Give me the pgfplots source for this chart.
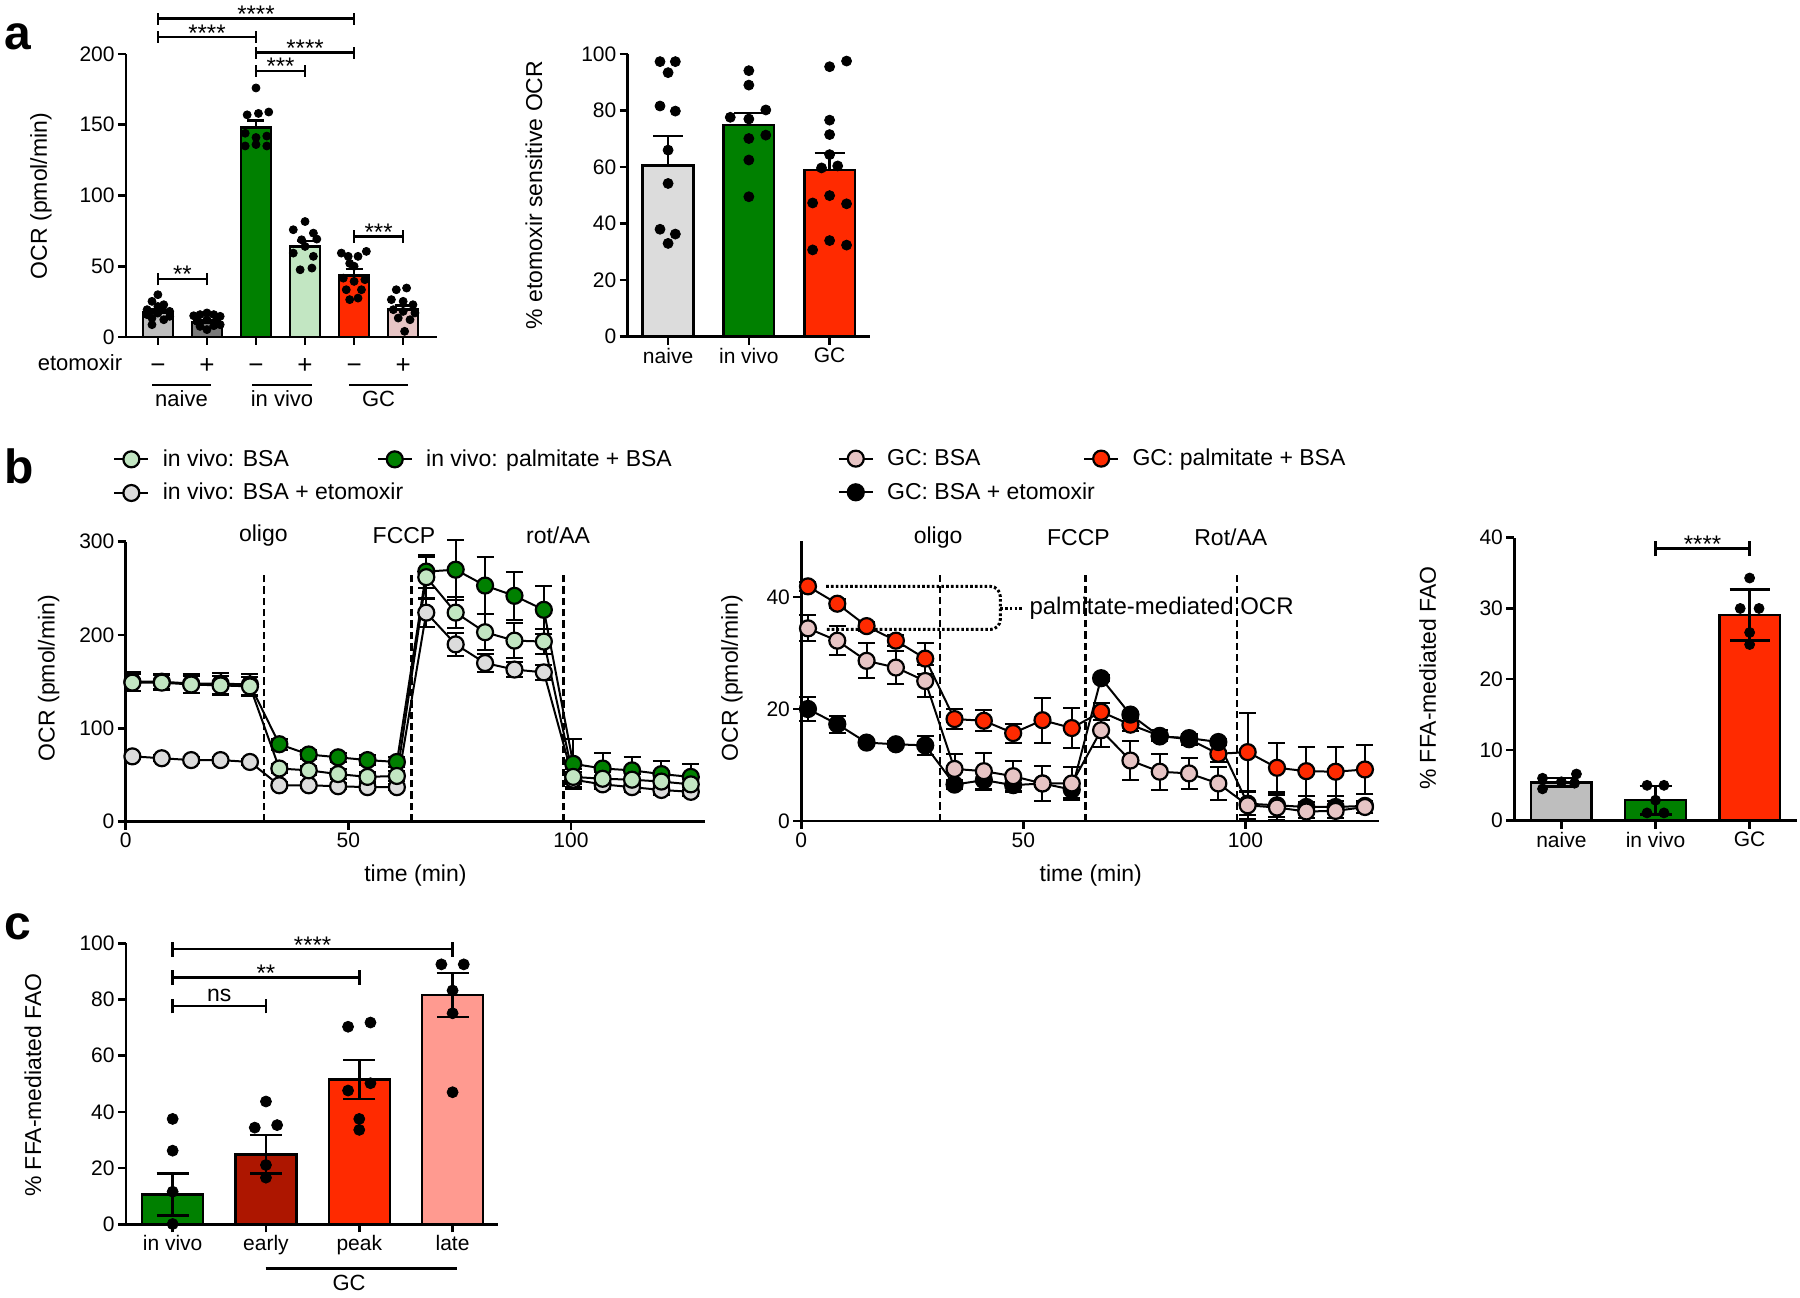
\documentclass[border=0pt]{standalone}
\usepackage{fontspec}
\setmainfont{Liberation Sans}
\usepackage{pgfplots}
\pgfplotsset{compat=1.18}
\definecolor{gpgreen}{HTML}{008000}
\definecolor{gplgreen}{HTML}{C2E6C2}
\definecolor{gplgray}{HTML}{DCDCDC}
\definecolor{gpgray}{HTML}{BEBEBE}
\definecolor{gpdgray}{HTML}{7A7A7A}
\definecolor{gpred}{HTML}{FF2A00}
\definecolor{gppink}{HTML}{E6C4C4}
\definecolor{gpdred}{HTML}{AD1600}
\definecolor{gplred}{HTML}{FF9A90}
\newcommand{\lbl}{\fontsize{11.5}{13}\selectfont}
\newcommand{\tkl}{\fontsize{10.5}{12}\selectfont}
\newcommand{\sigbar}[5]{%
  \draw[line width=1.25pt] (axis cs:#1,{#3-#4}) -- (axis cs:#1,{#3+#4}) (axis cs:#1,#3) -- (axis cs:#2,#3) (axis cs:#2,{#3-#4}) -- (axis cs:#2,{#3+#4});
  \node[anchor=base, inner sep=0pt, font=\fontsize{12}{12}\selectfont, yshift=-2pt] at (axis cs:{(#1+#2)/2},#3) {#5};}
\tikzset{dashl/.style={line width=1.2pt, dash pattern=on 3.7pt off 2pt}}
\pgfplotsset{
  gp/.style={
    scale only axis, anchor=south west, clip=false,
    axis x line*=bottom, axis y line*=left,
    axis line style={line width=1.3pt, -},
    tick align=outside, major tick length=4pt,
    every tick/.style={line width=1.3pt, black},
    tick label style={font=\tkl},
    every tick label/.append style={inner sep=1.5pt},
    /pgf/number format/assume math mode=true,
  },
  barp/.style n args={4}{ybar, bar shift=0pt, bar width=#1, fill=#2, draw=black, line width=1.25pt,
    error bars/y explicit, error bars/y dir=#3,
    error bars/error bar style={line width=1.25pt, black},
    error bars/error mark options={rotate=90, mark size=#4, line width=1.25pt, black}},
  pts/.style={only marks, mark=*, black, mark options={fill=black, draw=black}},
  ts/.style={black, line width=1pt, mark=*, mark size=4pt,
    mark options={fill=#1, draw=black, line width=1.1pt},
    error bars/y dir=both, error bars/y explicit, error bars/error bar style={line width=1pt, black},
    error bars/error mark options={rotate=90, mark size=4.25pt, line width=1pt, draw=black}},
}
\begin{document}
\begin{tikzpicture}
\path[use as bounding box] (0,0) rectangle (900pt,648.5pt);

% ---------- panel letters
\node[anchor=west, inner sep=0pt, font=\bfseries\fontsize{24}{24}\selectfont] at (2pt,630pt) {a};
\node[anchor=west, inner sep=0pt, font=\bfseries\fontsize{24}{24}\selectfont] at (2pt,415.5pt) {b};
\node[anchor=west, inner sep=0pt, font=\bfseries\fontsize{24}{24}\selectfont] at (2pt,185pt) {c};

% ---------- panel a left
\begin{axis}[gp, at={(63pt,480pt)}, width=155.5pt, height=141.5pt,
  xmin=-0.65, xmax=5.69, ymin=0, ymax=200, ytick={0,50,100,150,200},
  xtick={0,1,2,3,4,5}, xticklabels={−,+,−,+,−,+},
  xticklabel style={font=\fontsize{13}{15}\selectfont, text height=9pt, text depth=0pt, yshift=-3.8pt}]
\addplot[barp={15pt}{gpgray}{plus}{4.25pt}] coordinates {(0,17.4) +- (0,2)};
\addplot[barp={15pt}{gpdgray}{plus}{4.25pt}] coordinates {(1,10.4) +- (0,1.2)};
\addplot[barp={15pt}{gpgreen}{plus}{4.25pt}] coordinates {(2,148.2) +- (0,4.8)};
\addplot[barp={15pt}{gplgreen}{plus}{4.25pt}] coordinates {(3,64) +- (0,4)};
\addplot[barp={15pt}{gpred}{plus}{4.25pt}] coordinates {(4,43.3) +- (0,4.7)};
\addplot[barp={15pt}{gppink}{plus}{4.25pt}] coordinates {(5,19.3) +- (0,2.8)};
\addplot[pts, mark size=2pt] coordinates {(0,29.9) (-0.12,25.2) (0.12,22.8) (-0.22,19.3) (0.24,18.1) (0,16.9) (-0.12,13.4) (0.12,12.2) (-0.12,8.7) (0.24,14.6) (0,21.6) (-0.22,15.8)};
\addplot[pts, mark size=2pt] coordinates {(0.73,15) (0.86,15.8) (1,17) (1.14,15.8) (1.27,14.6) (0.8,11) (1,12.2) (1.2,11) (0.86,7.5) (1.14,8) (1,5.2) (1.27,8.7)};
\addplot[pts, mark size=2pt] coordinates {(2,176) (1.82,157) (2.05,158) (2.26,159) (1.78,144) (2.0,141) (2.22,142) (1.78,135) (2.0,136) (2.22,135)};
\addplot[pts, mark size=2pt] coordinates {(3,81.6) (2.76,75.8) (3.17,73.4) (2.93,68.7) (3.24,69.2) (3,64) (2.76,59.3) (3.17,57) (2.9,47.5) (3.14,48.7)};
\addplot[pts, mark size=2pt] coordinates {(3.74,59.3) (3.88,57) (4.08,57) (4.25,60.5) (3.91,52) (4,50) (3.78,41.6) (4,39.3) (4.22,40.5) (3.84,33.4) (4.15,33.4) (3.91,26.4) (4.08,27.5)};
\addplot[pts, mark size=2pt] coordinates {(4.86,33.4) (5.07,34.6) (4.76,26.4) (5,25.2) (5.2,22.8) (4.8,19.3) (5,18.1) (5.24,17) (4.9,13.4) (5.14,12.2) (5.03,4)};
\sigbar{0}{4}{225}{4.2}{****}
\sigbar{0}{2}{212}{4.2}{****}
\sigbar{2}{4}{201}{4.2}{****}
\sigbar{2}{3}{188}{4.2}{***}
\sigbar{0}{1}{41}{4.5}{**}
\sigbar{4}{5}{71}{4.5}{***}
\end{axis}
\node[anchor=base, font=\fontsize{11}{13}\selectfont] at (40pt,463.2pt) {etomoxir};
\draw[line width=1.25pt] (76pt,456pt) -- (105.5pt,456pt) (126pt,456pt) -- (156pt,456pt) (174.5pt,456pt) -- (204pt,456pt);
\node[anchor=base, font=\fontsize{11}{13}\selectfont] at (90.75pt,445pt) {naive};
\node[anchor=base, font=\fontsize{11}{13}\selectfont] at (141pt,445pt) {in vivo};
\node[anchor=base, font=\fontsize{11}{13}\selectfont] at (189.25pt,445pt) {GC};
\node[rotate=90, font=\lbl] at (20.5pt,550.5pt) {OCR (pmol/min)};

% ---------- panel a right
\begin{axis}[gp, at={(313.85pt,480.15pt)}, width=121.15pt, height=141.35pt,
  xmin=-0.5, xmax=2.5, ymin=0, ymax=100, ytick={0,20,...,100},
  xtick={0,1,2}, xticklabels={naive,in vivo,GC}]
\addplot[barp={25.35pt}{gplgray}{plus}{7.5pt}] coordinates {(0,60.5) +- (0,10.5)};
\addplot[barp={25.35pt}{gpgreen}{plus}{7.5pt}] coordinates {(1,74.8) +- (0,4.4)};
\addplot[barp={25.35pt}{gpred}{plus}{7.5pt}] coordinates {(2,59) +- (0,6)};
\addplot[pts, mark size=2.5pt] coordinates {(-0.1,97.3) (0.09,97.3) (0,93.4) (-0.1,81.6) (0.09,79.8) (0,66) (0,54.2) (-0.1,38) (0.09,36.3) (0,33)};
\addplot[pts, mark size=2.5pt] coordinates {(1,94.1) (1,89) (0.77,77.6) (1,77) (1.21,80.2) (1,70.1) (1.21,71.3) (1,62.5) (1,49.5)};
\addplot[pts, mark size=2.5pt] coordinates {(2,95.5) (2.21,97.5) (2,76.6) (2,71.5) (2,64.4) (1.9,59.7) (2.1,60.4) (1.79,47.3) (2,49.9) (2.21,47) (1.79,30.7) (2,34) (2.21,32.4)};
\end{axis}
\node[rotate=90, font=\lbl] at (267pt,551pt) {\% etomoxir sensitive OCR};

% ---------- panel b left
\begin{axis}[gp, at={(62.85pt,237.65pt)}, width=289.45pt, height=140pt,
  xmin=0, xmax=130, ymin=0, ymax=300, xtick={0,50,100}, ytick={0,100,200,300},
  legend columns=2,
  legend style={draw=none, fill=none, at={(-0.022,1.345)}, anchor=north west,
    font=\lbl, inner sep=0pt, row sep=3pt,
    /tikz/every odd column/.append style={column sep=4.7pt},
    /tikz/every even column/.append style={column sep=4pt}},
  legend cell align=left,
  legend image code/.code={\draw[mark repeat=2,mark phase=2,#1] plot coordinates {(0pt,0pt) (8.5pt,0pt) (17pt,0pt)};}]
\addlegendimage{black, line width=1pt, mark=*, mark size=4pt, mark options={fill=gplgreen, draw=black, line width=1.1pt}}
\addlegendentry{\makebox[101pt][l]{in vivo: BSA}}
\addlegendimage{black, line width=1pt, mark=*, mark size=4pt, mark options={fill=gpgreen, draw=black, line width=1.1pt}}
\addlegendentry{in vivo: palmitate + BSA}
\addlegendimage{black, line width=1pt, mark=*, mark size=4pt, mark options={fill=gplgray, draw=black, line width=1.1pt}}
\addlegendentry{\makebox[101pt][l]{in vivo: BSA + etomoxir}}
\draw[dashl] (axis cs:31,0) -- (axis cs:31,268);
\draw[dashl] (axis cs:64.2,0) -- (axis cs:64.2,268);
\draw[dashl] (axis cs:98.3,0) -- (axis cs:98.3,268);
\node[font=\lbl] at (axis cs:30.9,307) {oligo};
\node[font=\lbl] at (axis cs:62.5,307) {FCCP};
\node[font=\lbl] at (axis cs:97.1,307) {rot/AA};
\addplot[forget plot, ts=gplgray] coordinates {(1.5,70) +- (0,3) (8.1,68) +- (0,3) (14.7,66) +- (0,3) (21.3,66) +- (0,3) (27.9,64) +- (0,3) (34.5,39) +- (0,3) (41.1,39) +- (0,3) (47.7,38) +- (0,3) (54.3,37) +- (0,3) (60.9,37) +- (0,3) (67.5,224) +- (0,15) (74.1,190) +- (0,12) (80.7,170) +- (0,10) (87.3,163) +- (0,8) (93.9,160) +- (0,8) (100.5,45) +- (0,8) (107.1,40) +- (0,5) (113.7,37) +- (0,5) (120.3,34) +- (0,5) (126.9,32) +- (0,5)};
\addplot[forget plot, ts=gpgreen] coordinates {(1.5,150) +- (0,10) (8.1,150) +- (0,8) (14.7,148) +- (0,10) (21.3,148) +- (0,11) (27.9,147) +- (0,11) (34.5,83) +- (0,6) (41.1,72) +- (0,5) (47.7,69) +- (0,5) (54.3,66) +- (0,5) (60.9,64) +- (0,5) (67.5,268) +- (0,18) (74.1,270) +- (0,32) (80.7,253) +- (0,31) (87.3,242) +- (0,26) (93.9,227) +- (0,26) (100.5,62) +- (0,27) (107.1,57) +- (0,17) (113.7,55) +- (0,14) (120.3,51) +- (0,14) (126.9,48) +- (0,14)};
\addplot[forget plot, ts=gplgreen] coordinates {(1.5,149) +- (0,9) (8.1,149) +- (0,8) (14.7,147) +- (0,9) (21.3,146) +- (0,10) (27.9,145) +- (0,10) (34.5,57) +- (0,5) (41.1,55) +- (0,5) (47.7,51) +- (0,5) (54.3,48) +- (0,5) (60.9,49) +- (0,5) (67.5,262) +- (0,22) (74.1,224) +- (0,17) (80.7,203) +- (0,19) (87.3,194) +- (0,19) (93.9,193) +- (0,13) (100.5,48) +- (0,8) (107.1,46) +- (0,7) (113.7,45) +- (0,6) (120.3,43) +- (0,6) (126.9,40) +- (0,6)};
\end{axis}
\node[rotate=90, font=\lbl] at (24.3pt,309.5pt) {OCR (pmol/min)};
\node[font=\lbl] at (207.7pt,210.5pt) {time (min)};

% ---------- panel b middle
\begin{axis}[gp, at={(400.65pt,238pt)}, width=288.7pt, height=140pt,
  xmin=0, xmax=130, ymin=0, ymax=50, xtick={0,50,100}, ytick={0,20,40},
  legend columns=2,
  legend style={draw=none, fill=none, at={(0.0625,1.345)}, anchor=north west,
    font=\lbl, inner sep=0pt, row sep=3pt,
    /tikz/every odd column/.append style={column sep=4.7pt},
    /tikz/every even column/.append style={column sep=4pt}},
  legend cell align=left,
  legend image code/.code={\draw[mark repeat=2,mark phase=2,#1] plot coordinates {(0pt,0pt) (8.5pt,0pt) (17pt,0pt)};}]
\addlegendimage{black, line width=1pt, mark=*, mark size=4pt, mark options={fill=gppink, draw=black, line width=1.1pt}}
\addlegendentry{\makebox[92pt][l]{GC: BSA}}
\addlegendimage{black, line width=1pt, mark=*, mark size=4pt, mark options={fill=gpred, draw=black, line width=1.1pt}}
\addlegendentry{GC: palmitate + BSA}
\addlegendimage{black, line width=1pt, mark=*, mark size=4pt, mark options={fill=black, draw=black, line width=1.1pt}}
\addlegendentry{\makebox[92pt][l]{GC: BSA + etomoxir}}
\draw[dashl] (axis cs:31.2,0) -- (axis cs:31.2,44);
\draw[dashl] (axis cs:64,0) -- (axis cs:64,44);
\draw[dashl] (axis cs:98.1,0) -- (axis cs:98.1,44);
\node[font=\lbl] at (axis cs:30.8,50.6) {oligo};
\node[font=\lbl] at (axis cs:62.4,50.6) {FCCP};
\node[font=\lbl] at (axis cs:96.7,50.6) {Rot/AA};
\draw[line width=1.5pt, dash pattern=on 1.3pt off 1.1pt, rounded corners=5pt] (axis cs:5.6,41.9) -- (axis cs:44.8,41.9) -- (axis cs:44.8,34.2) -- (axis cs:5.6,34.2);
\draw[line width=1.5pt, dash pattern=on 1.3pt off 1.1pt] (axis cs:44.8,38) -- (axis cs:50,38);
\node[anchor=west, inner sep=0pt, font=\fontsize{12}{14}\selectfont] at (axis cs:51.3,38) {palmitate-mediated OCR};
\addplot[forget plot, ts=gpred] coordinates {(1.5,41.9) +- (0,0.8) (8.1,38.8) +- (0,0.8) (14.7,34.8) +- (0,0.8) (21.3,32.2) +- (0,1.0) (27.9,29.0) +- (0,2.8) (34.5,18.2) +- (0,1.8) (41.1,17.9) +- (0,1.9) (47.7,15.7) +- (0,1.7) (54.3,18.0) +- (0,4.0) (60.9,16.6) +- (0,3.6) (67.5,19.5) +- (0,1.5) (74.1,17.2) +- (0,1.2) (80.7,15.2) +- (0,1.0) (87.3,14.6) +- (0,1.0) (93.9,12.0) +- (0,1.5) (100.5,12.3) +- (0,7.0) (107.1,9.5) +- (0,4.4) (113.7,8.9) +- (0,4.4) (120.3,8.8) +- (0,4.4) (126.9,9.2) +- (0,4.4)};
\addplot[forget plot, ts=black] coordinates {(1.5,20.0) +- (0,2.2) (8.1,17.3) +- (0,1.5) (14.7,14.0) +- (0,0.5) (21.3,13.7) +- (0,0.5) (27.9,13.5) +- (0,1.7) (34.5,6.5) +- (0,0.8) (41.1,7.3) +- (0,1.5) (47.7,6.4) +- (0,1.0) (54.3,6.7) +- (0,0.5) (60.9,5.6) +- (0,1.5) (67.5,25.5) +- (0,0.5) (74.1,19.0) +- (0,0.5) (80.7,15.1) +- (0,0.5) (87.3,14.8) +- (0,0.5) (93.9,14.1) +- (0,0.5) (100.5,3.1) +- (0,2.0) (107.1,2.8) +- (0,2.0) (113.7,2.5) +- (0,2.0) (120.3,2.5) +- (0,2.0) (126.9,2.7) +- (0,0.5)};
\addplot[forget plot, ts=gppink] coordinates {(1.5,34.4) +- (0,2.3) (8.1,32.2) +- (0,2.6) (14.7,28.6) +- (0,3.1) (21.3,27.4) +- (0,3.0) (27.9,25.0) +- (0,2.8) (34.5,9.3) +- (0,2.7) (41.1,8.9) +- (0,3.3) (47.7,8.0) +- (0,2.8) (54.3,6.7) +- (0,3.1) (60.9,6.7) +- (0,2.9) (67.5,16.2) +- (0,3.0) (74.1,10.8) +- (0,3.4) (80.7,8.8) +- (0,3.2) (87.3,8.5) +- (0,2.7) (93.9,6.7) +- (0,2.9) (100.5,2.8) +- (0,2.4) (107.1,2.4) +- (0,2.3) (113.7,1.7) +- (0,1.7) (120.3,1.8) +- (0,1.8) (126.9,2.5) +- (0,1.0)};
\end{axis}
\node[rotate=90, font=\lbl] at (366pt,309.5pt) {OCR (pmol/min)};
\node[font=\lbl] at (545.4pt,210.5pt) {time (min)};

% ---------- panel b right
\begin{axis}[gp, at={(757.15pt,238.15pt)}, width=141.2pt, height=141.5pt,
  xmin=-0.5, xmax=2.5, ymin=0, ymax=40, ytick={0,10,20,30,40},
  xtick={0,1,2}, xticklabels={naive,in vivo,GC}]
\addplot[barp={30.35pt}{gpgray}{both}{8pt}] coordinates {(0,5.4) +- (0,0.6)};
\addplot[barp={30.35pt}{gpgreen}{both}{8pt}] coordinates {(1,2.9) +- (0,2)};
\addplot[barp={30.35pt}{gpred}{both}{10pt}] coordinates {(2,29.1) +- (0,3.6)};
\addplot[pts, mark size=2.5pt] coordinates {(-0.2,6.0) (0,5.5) (0.16,6.6) (-0.2,4.5) (0.14,5.3)};
\addplot[pts, mark size=2.5pt] coordinates {(0.91,5.0) (1.09,5.0) (1,2.9) (0.91,1.1) (1.09,1.1)};
\addplot[pts, mark size=2.5pt] coordinates {(2,34.3) (1.9,30) (2.1,30) (2,26.6) (2,24.9)};
\sigbar{1}{2}{38.5}{1.1}{****}
\end{axis}
\node[rotate=90, font=\lbl] at (713.8pt,309.5pt) {\% FFA-mediated FAO};

% ---------- panel c
\begin{axis}[gp, at={(63pt,36.35pt)}, width=186.15pt, height=140.5pt,
  xmin=-0.5, xmax=3.49, ymin=0, ymax=100, ytick={0,20,...,100},
  xtick={0,1,2,3}, xticklabels={in vivo,early,peak,late}]
\addplot[barp={30.5pt}{gpgreen}{both}{8pt}] coordinates {(0,10.6) +- (0,7.5)};
\addplot[barp={30.5pt}{gpdred}{both}{8pt}] coordinates {(1,24.9) +- (0,6.8)};
\addplot[barp={30.5pt}{gpred}{both}{8pt}] coordinates {(2,51.5) +- (0,6.9)};
\addplot[barp={30.5pt}{gplred}{both}{8pt}] coordinates {(3,81.6) +- (0,7.8)};
\addplot[pts, mark size=2.75pt] coordinates {(0,37.5) (0,26.2) (0,11.6) (0,0.1)};
\addplot[pts, mark size=2.75pt] coordinates {(1,43.7) (0.88,34.4) (1.12,35.3) (1,21.1) (1,16.6)};
\addplot[pts, mark size=2.75pt] coordinates {(1.88,70.3) (2.12,71.8) (1.88,47.6) (2.12,50.2) (2,37.5) (2,33.6)};
\addplot[pts, mark size=2.75pt] coordinates {(2.88,92.5) (3.12,92.5) (3,83.2) (3,75.1) (3,47)};
\sigbar{0}{3}{97.9}{2.6}{****}
\sigbar{0}{2}{87.8}{2.6}{**}
\draw[line width=1.25pt] (axis cs:0,75.1) -- (axis cs:0,80.3) (axis cs:0,77.7) -- (axis cs:1,77.7) (axis cs:1,75.1) -- (axis cs:1,80.3);
\node[anchor=base, inner sep=0pt, font=\lbl, yshift=2pt] at (axis cs:0.5,77.7) {ns};
\end{axis}
\node[rotate=90, font=\lbl] at (16.5pt,106pt) {\% FFA-mediated FAO};
\draw[line width=1.25pt] (132.85pt,14.35pt) -- (228.35pt,14.35pt);
\node[anchor=base, font=\fontsize{11}{13}\selectfont] at (174.5pt,3.5pt) {GC};
\end{tikzpicture}
\end{document}
